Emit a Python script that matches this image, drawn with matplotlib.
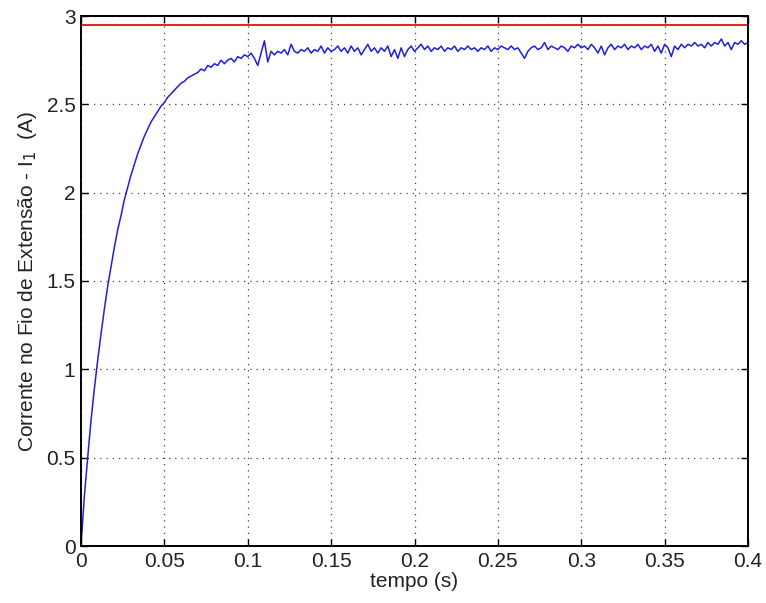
import numpy as np
import matplotlib
matplotlib.use("Agg")
import matplotlib.pyplot as plt

# Sample times (s), step 0.002 s
time_s = np.round(np.arange(201) * 0.002, 3)

current_a = [
    0.00, 0.28, 0.50, 0.71, 0.89, 1.05, 1.20, 1.34, 1.47, 1.58,
    1.69, 1.79, 1.87, 1.96, 2.03, 2.10, 2.16, 2.22, 2.27, 2.32,
    2.36, 2.40, 2.43, 2.46, 2.49, 2.51, 2.54, 2.56, 2.58, 2.60,
    2.62, 2.63, 2.65, 2.66, 2.67, 2.68, 2.70, 2.69, 2.72, 2.71,
    2.73, 2.72, 2.75, 2.73, 2.75, 2.76, 2.74, 2.77, 2.76, 2.78,
    2.77, 2.79, 2.76, 2.72, 2.79, 2.86, 2.74, 2.80, 2.78, 2.80,
    2.79, 2.81, 2.78, 2.84, 2.80, 2.79, 2.81, 2.80, 2.82, 2.79,
    2.81, 2.80, 2.83, 2.79, 2.82, 2.80, 2.81, 2.83, 2.80, 2.82,
    2.79, 2.83, 2.80, 2.82, 2.78, 2.81, 2.84, 2.80, 2.82, 2.79,
    2.82, 2.80, 2.83, 2.77, 2.81, 2.76, 2.82, 2.77, 2.81, 2.83,
    2.80, 2.82, 2.84, 2.81, 2.83, 2.80, 2.82, 2.81, 2.83, 2.80,
    2.82, 2.81, 2.83, 2.80, 2.82, 2.81, 2.83, 2.81, 2.82, 2.80,
    2.82, 2.81, 2.83, 2.80, 2.82, 2.81, 2.83, 2.82, 2.81, 2.83,
    2.81, 2.82, 2.79, 2.76, 2.80, 2.82, 2.83, 2.81, 2.82, 2.85,
    2.81, 2.83, 2.82, 2.81, 2.83, 2.82, 2.80, 2.83, 2.82, 2.84,
    2.82, 2.83, 2.81, 2.84, 2.82, 2.79, 2.83, 2.78, 2.82, 2.84,
    2.81, 2.83, 2.82, 2.84, 2.81, 2.83, 2.82, 2.84, 2.81, 2.83,
    2.82, 2.84, 2.80, 2.83, 2.79, 2.84, 2.82, 2.77, 2.83, 2.81,
    2.84, 2.82, 2.84, 2.83, 2.85, 2.83, 2.84, 2.82, 2.85, 2.83,
    2.85, 2.84, 2.87, 2.83, 2.85, 2.81, 2.85, 2.84, 2.86, 2.84,
    2.85,
]

# Reference level (A)
reference_level = 2.95

x_ticks = [0, 0.05, 0.1, 0.15, 0.2, 0.25, 0.3, 0.35, 0.4]
x_tick_labels = ["0", "0.05", "0.1", "0.15", "0.2", "0.25", "0.3", "0.35", "0.4"]
y_ticks = [0, 0.5, 1, 1.5, 2, 2.5, 3]
y_tick_labels = ["0", "0.5", "1", "1.5", "2", "2.5", "3"]

plt.rcParams['font.family'] = ['Liberation Sans', 'DejaVu Sans']

fig = plt.figure(figsize=(7.66, 6.03), dpi=100)
ax = fig.add_axes([81/766, 1 - 546/603, (748 - 81)/766, (546 - 16)/603])

ax.plot(time_s, current_a, color='#1f1fe0', linewidth=1.1)
ax.axhline(reference_level, color='#e8201a', linewidth=1.4)

ax.set_xlim(0, 0.4)
ax.set_ylim(0, 3)
ax.set_xticks(x_ticks)
ax.set_xticklabels(x_tick_labels)
ax.set_yticks(y_ticks)
ax.set_yticklabels(y_tick_labels)

ax.grid(True, linestyle=(0, (1, 4)), color='0.25', linewidth=0.9)
ax.tick_params(direction='in', top=True, right=True, length=5, width=1.0,
               labelsize=15, pad=4, labelcolor='#222222')
for s in ax.spines.values():
    s.set_linewidth(1.4)
    s.set_color('black')

ax.set_xlabel("tempo (s)", fontsize=15, labelpad=1, color='#222222')
ax.set_ylabel("Corrente no Fio de Extensão - I$_1$  (A)", fontsize=15,
              labelpad=5, color='#222222')

fig.savefig("out.png", dpi=100)
